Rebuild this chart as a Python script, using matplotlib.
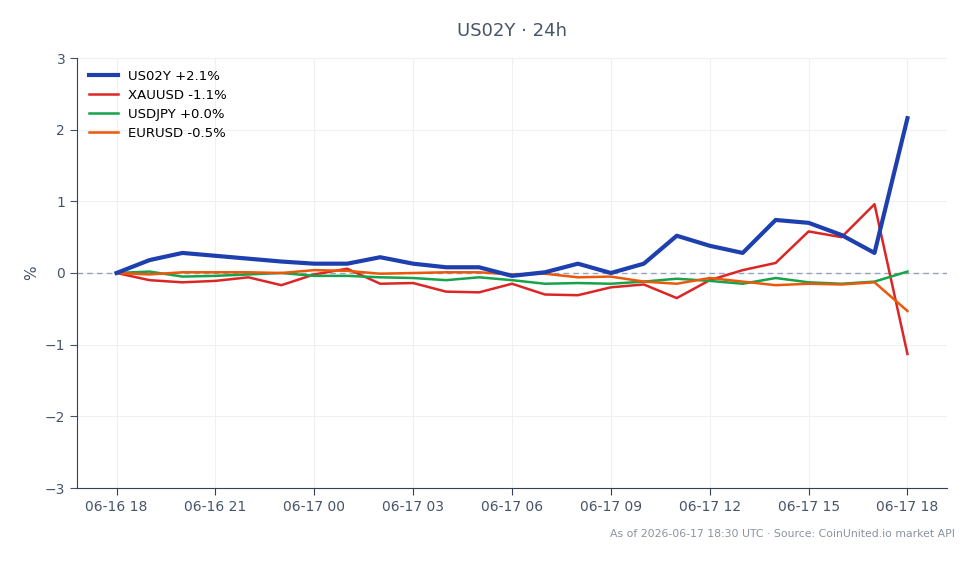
import matplotlib
matplotlib.use("Agg")
import matplotlib.pyplot as plt
import matplotlib.dates as mdates
import pandas as pd

times = pd.date_range("2026-06-16 18:00", "2026-06-17 18:00", freq="h")

us02y = [0.0, 0.18, 0.28, 0.24, 0.20, 0.16, 0.13, 0.13, 0.22, 0.13, 0.08, 0.08,
         -0.04, 0.01, 0.13, 0.0, 0.13, 0.52, 0.38, 0.28, 0.74, 0.70, 0.53, 0.28, 2.16]
xauusd = [0.0, -0.10, -0.13, -0.11, -0.06, -0.17, -0.02, 0.06, -0.15, -0.14, -0.26, -0.27,
          -0.15, -0.30, -0.31, -0.20, -0.16, -0.35, -0.10, 0.04, 0.14, 0.58, 0.50, 0.96, -1.13]
usdjpy = [0.0, 0.02, -0.05, -0.04, -0.02, 0.0, -0.04, -0.04, -0.06, -0.07, -0.10, -0.06,
          -0.10, -0.15, -0.14, -0.15, -0.12, -0.08, -0.11, -0.15, -0.07, -0.13, -0.15, -0.12, 0.02]
eurusd = [0.0, -0.02, 0.01, 0.01, 0.01, 0.0, 0.04, 0.03, -0.01, 0.0, 0.01, 0.01,
          -0.02, -0.01, -0.06, -0.05, -0.12, -0.15, -0.07, -0.12, -0.17, -0.15, -0.16, -0.13, -0.53]

TEXT = "#475569"

fig = plt.figure(figsize=(9.79, 5.64), dpi=100)
ax = fig.add_axes([77 / 979, 1 - 488 / 564, 870 / 979, 430 / 564])

ax.axhline(0, color="#94a3b8", linestyle=(0, (4, 3)), linewidth=1.0, zorder=1)
ax.plot(times, us02y, color="#1e40af", linewidth=3.0, label="US02Y +2.1%", zorder=4)
ax.plot(times, xauusd, color="#dc2626", linewidth=1.8, label="XAUUSD -1.1%", zorder=3)
ax.plot(times, usdjpy, color="#16a34a", linewidth=1.8, label="USDJPY +0.0%", zorder=3)
ax.plot(times, eurusd, color="#ea580c", linewidth=1.8, label="EURUSD -0.5%", zorder=3)

ax.set_ylim(-3, 3)
ax.set_yticks(range(-3, 4))
ax.xaxis.set_major_locator(mdates.HourLocator(byhour=range(0, 24, 3)))
ax.xaxis.set_major_formatter(mdates.DateFormatter("%m-%d %H"))

ax.grid(True, color="#eef0f3", linewidth=0.8)
ax.set_axisbelow(True)
for side in ("top", "right"):
    ax.spines[side].set_visible(False)
for side in ("left", "bottom"):
    ax.spines[side].set_color("#334155")
ax.tick_params(colors=TEXT, labelsize=10, length=5)
ax.tick_params(axis="x", colors="#334155", labelcolor=TEXT)

ax.set_ylabel("%", color=TEXT, fontsize=11)
ax.set_title("US02Y · 24h", color=TEXT, fontsize=13, pad=16)

ax.legend(loc="upper left", frameon=False, fontsize=9.5, handlelength=2.2,
          borderaxespad=0.5, labelspacing=0.45)

fig.text(955 / 979, 1 - 534 / 564, "As of 2026-06-17 18:30 UTC · Source: CoinUnited.io market API",
         ha="right", va="center", fontsize=7.8, color="#8a93a0")

fig.savefig("out.png", dpi=100)
